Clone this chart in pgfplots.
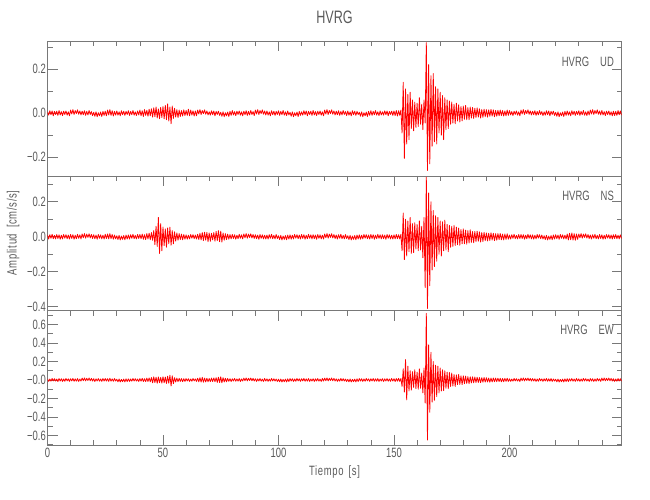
\documentclass[border=0pt]{standalone}
\usepackage{pgfplots}
\pgfplotsset{compat=1.18}
\usepackage{fontspec}
\setmainfont{Liberation Sans}[FakeStretch=0.7]
\definecolor{axgray}{RGB}{120,120,120}
\definecolor{txtgray}{RGB}{90,90,90}

\pgfplotsset{
  seis/.style={
    scale only axis, width=574pt, height=134.5pt,
    xmin=0, xmax=248.5, enlargelimits=false,
    axis line style={draw=axgray, line width=0.7pt},
    tick style={draw=axgray, line width=0.7pt},
    major tick length=10pt, minor tick length=5pt,
    tick align=inside,
    xtick={0,50,100,150,200},
    minor xtick={10,20,...,240},
    ytick pos=both, yticklabel pos=left,
    tick label style={font=\fontsize{13.5}{14}\selectfont, text=txtgray, inner sep=1.5pt},
  },
  trace/.style={color=red, line width=0.8pt, line join=round},
}
\tikzset{comp/.style={anchor=east, inner sep=0pt, text=txtgray, font=\fontsize{13.5}{14}\selectfont}}

\begin{document}
\begin{tikzpicture}
\path[use as bounding box] (0,0) rectangle (650pt,500pt);

% UD
\begin{axis}[seis, at={(47.5pt,324pt)}, anchor=south west,
  ymin=-0.285, ymax=0.325,
  xtick pos=right, xticklabels={},
  ytick={-0.2,0,0.2}, yticklabels={−0.2,0.0,0.2},
  minor ytick={-0.1,0.1,0.3},
  title={HVRG},
  title style={font=\fontsize{18}{18}\selectfont, text=txtgray, inner sep=0pt, at={(0.5,1)}, anchor=south, yshift=11.5pt},
]
\addplot[trace] table[row sep=\\, x expr=\coordindex*0.5, y index=0] {
y\\
0.006\\ -0.009\\ 0.011\\ -0.007\\ 0.010\\ -0.012\\ 0.008\\ -0.006\\ 0.009\\ -0.010\\
0.012\\ -0.008\\ 0.007\\ -0.011\\ 0.009\\ -0.006\\ 0.010\\ -0.009\\ 0.006\\ -0.012\\
0.014\\ -0.004\\ 0.016\\ -0.006\\ 0.012\\ -0.002\\ 0.015\\ -0.005\\ 0.010\\ -0.008\\
0.009\\ -0.007\\ 0.011\\ -0.010\\ 0.008\\ -0.008\\ 0.012\\ -0.006\\ 0.007\\ -0.011\\
0.004\\ -0.014\\ 0.006\\ -0.016\\ 0.002\\ -0.012\\ 0.005\\ -0.015\\ 0.008\\ -0.010\\
0.009\\ -0.012\\ 0.014\\ -0.008\\ 0.016\\ -0.010\\ 0.011\\ -0.013\\ 0.008\\ -0.009\\
0.010\\ -0.009\\ 0.006\\ -0.012\\ 0.011\\ -0.007\\ 0.009\\ -0.010\\ 0.008\\ -0.006\\
0.011\\ -0.010\\ 0.008\\ -0.007\\ 0.012\\ -0.009\\ 0.006\\ -0.011\\ 0.010\\ -0.008\\
0.014\\ -0.012\\ 0.011\\ -0.015\\ 0.016\\ -0.010\\ 0.013\\ -0.014\\ 0.018\\ -0.012\\
0.020\\ -0.018\\ 0.024\\ -0.016\\ 0.028\\ -0.022\\ 0.019\\ -0.025\\ 0.026\\ -0.020\\
0.030\\ -0.026\\ 0.035\\ -0.030\\ 0.042\\ -0.036\\ 0.028\\ -0.048\\ 0.032\\ -0.024\\
0.022\\ -0.018\\ 0.016\\ -0.020\\ 0.014\\ -0.015\\ 0.012\\ -0.013\\ 0.015\\ -0.011\\
0.012\\ -0.010\\ 0.018\\ -0.012\\ 0.014\\ -0.009\\ 0.011\\ -0.013\\ 0.010\\ -0.012\\
0.014\\ -0.004\\ 0.016\\ -0.006\\ 0.012\\ -0.002\\ 0.015\\ -0.005\\ 0.010\\ -0.008\\
0.006\\ -0.009\\ 0.011\\ -0.007\\ 0.010\\ -0.012\\ 0.008\\ -0.006\\ 0.009\\ -0.010\\
0.004\\ -0.014\\ 0.006\\ -0.016\\ 0.002\\ -0.012\\ 0.005\\ -0.015\\ 0.008\\ -0.010\\
0.012\\ -0.008\\ 0.007\\ -0.011\\ 0.009\\ -0.006\\ 0.010\\ -0.009\\ 0.006\\ -0.012\\
0.009\\ -0.007\\ 0.011\\ -0.010\\ 0.008\\ -0.008\\ 0.012\\ -0.006\\ 0.007\\ -0.011\\
0.014\\ -0.004\\ 0.016\\ -0.006\\ 0.012\\ -0.002\\ 0.015\\ -0.005\\ 0.010\\ -0.008\\
0.010\\ -0.009\\ 0.006\\ -0.012\\ 0.011\\ -0.007\\ 0.009\\ -0.010\\ 0.008\\ -0.006\\
0.011\\ -0.010\\ 0.008\\ -0.007\\ 0.012\\ -0.009\\ 0.006\\ -0.011\\ 0.010\\ -0.008\\
0.004\\ -0.014\\ 0.006\\ -0.016\\ 0.002\\ -0.012\\ 0.005\\ -0.015\\ 0.008\\ -0.010\\
0.006\\ -0.009\\ 0.011\\ -0.007\\ 0.010\\ -0.012\\ 0.008\\ -0.006\\ 0.009\\ -0.010\\
0.012\\ -0.008\\ 0.007\\ -0.011\\ 0.009\\ -0.006\\ 0.010\\ -0.009\\ 0.006\\ -0.012\\
0.014\\ -0.004\\ 0.016\\ -0.006\\ 0.012\\ -0.002\\ 0.015\\ -0.005\\ 0.010\\ -0.008\\
0.009\\ -0.007\\ 0.011\\ -0.010\\ 0.008\\ -0.008\\ 0.012\\ -0.006\\ 0.007\\ -0.011\\
0.010\\ -0.009\\ 0.006\\ -0.012\\ 0.011\\ -0.007\\ 0.009\\ -0.010\\ 0.008\\ -0.006\\
0.004\\ -0.014\\ 0.006\\ -0.016\\ 0.002\\ -0.012\\ 0.005\\ -0.015\\ 0.008\\ -0.010\\
0.011\\ -0.010\\ 0.008\\ -0.007\\ 0.012\\ -0.009\\ 0.006\\ -0.011\\ 0.010\\ -0.008\\
0.006\\ -0.009\\ 0.011\\ -0.007\\ 0.010\\ -0.012\\ 0.008\\ -0.006\\ 0.009\\ -0.010\\
0.010\\ -0.011\\ 0.012\\ -0.013\\ 0.011\\ -0.010\\ 0.014\\ -0.090\\ 0.140\\ -0.205\\
0.110\\ -0.140\\ 0.085\\ -0.120\\ 0.095\\ -0.070\\ 0.060\\ -0.080\\ 0.050\\ -0.065\\
0.045\\ -0.060\\ 0.070\\ -0.050\\ 0.040\\ -0.075\\ 0.060\\ -0.045\\ 0.320\\ -0.260\\
0.220\\ -0.230\\ 0.170\\ -0.150\\ 0.180\\ -0.130\\ 0.120\\ -0.140\\ 0.110\\ -0.090\\
0.095\\ -0.100\\ 0.080\\ -0.120\\ 0.070\\ -0.075\\ 0.060\\ -0.070\\ 0.055\\ -0.050\\
0.050\\ -0.045\\ 0.040\\ -0.048\\ 0.045\\ -0.035\\ 0.038\\ -0.040\\ 0.030\\ -0.035\\
0.032\\ -0.028\\ 0.035\\ -0.030\\ 0.025\\ -0.030\\ 0.028\\ -0.022\\ 0.026\\ -0.024\\
0.022\\ -0.020\\ 0.024\\ -0.018\\ 0.020\\ -0.022\\ 0.016\\ -0.019\\ 0.018\\ -0.016\\
0.016\\ -0.018\\ 0.015\\ -0.014\\ 0.017\\ -0.013\\ 0.015\\ -0.016\\ 0.012\\ -0.014\\
0.013\\ -0.012\\ 0.014\\ -0.011\\ 0.012\\ -0.013\\ 0.010\\ -0.012\\ 0.014\\ -0.010\\
0.012\\ -0.008\\ 0.007\\ -0.011\\ 0.009\\ -0.006\\ 0.010\\ -0.009\\ 0.006\\ -0.012\\
0.014\\ -0.004\\ 0.016\\ -0.006\\ 0.012\\ -0.002\\ 0.015\\ -0.005\\ 0.010\\ -0.008\\
0.009\\ -0.007\\ 0.011\\ -0.010\\ 0.008\\ -0.008\\ 0.012\\ -0.006\\ 0.007\\ -0.011\\
0.006\\ -0.009\\ 0.011\\ -0.007\\ 0.010\\ -0.012\\ 0.008\\ -0.006\\ 0.009\\ -0.010\\
0.004\\ -0.014\\ 0.006\\ -0.016\\ 0.002\\ -0.012\\ 0.005\\ -0.015\\ 0.008\\ -0.010\\
0.010\\ -0.009\\ 0.006\\ -0.012\\ 0.011\\ -0.007\\ 0.009\\ -0.010\\ 0.008\\ -0.006\\
0.011\\ -0.010\\ 0.008\\ -0.007\\ 0.012\\ -0.009\\ 0.006\\ -0.011\\ 0.010\\ -0.008\\
0.014\\ -0.004\\ 0.016\\ -0.006\\ 0.012\\ -0.002\\ 0.015\\ -0.005\\ 0.010\\ -0.008\\
0.012\\ -0.008\\ 0.007\\ -0.011\\ 0.009\\ -0.006\\ 0.010\\ -0.009\\ 0.006\\ -0.012\\
0.009\\ -0.011\\ 0.008\\ -0.010\\ 0.012\\ -0.007\\ 0.010\\ -0.009\\
};
\node[comp] at (rel axis cs:0.987,0.848) {HVRG\hspace{11pt}UD};
\end{axis}

% NS
\begin{axis}[seis, at={(47.5pt,189.5pt)}, anchor=south west,
  ymin=-0.421, ymax=0.347,
  xtick pos=right, xticklabels={},
  ytick={-0.4,-0.2,0,0.2}, yticklabels={−0.4,−0.2,0.0,0.2},
  minor ytick={-0.3,-0.1,0.1,0.3},
  ylabel={Amplitud\hspace{6pt}[cm/s/s]},
  ylabel style={font=\fontsize{13.5}{14}\selectfont\addfontfeature{LetterSpace=5}, text=txtgray, at={(rel axis cs:-0.060,0.577)}, anchor=center, inner sep=0pt},
]
\addplot[trace] table[row sep=\\, x expr=\coordindex*0.5, y index=0] {
y\\
0.010\\ -0.013\\ 0.012\\ -0.009\\ 0.014\\ -0.011\\ 0.008\\ -0.012\\ 0.013\\ -0.010\\
0.011\\ -0.014\\ 0.009\\ -0.012\\ 0.013\\ -0.008\\ 0.012\\ -0.011\\ 0.010\\ -0.013\\
0.013\\ -0.010\\ 0.012\\ -0.014\\ 0.009\\ -0.011\\ 0.014\\ -0.009\\ 0.011\\ -0.012\\
0.016\\ -0.006\\ 0.018\\ -0.008\\ 0.015\\ -0.004\\ 0.017\\ -0.007\\ 0.013\\ -0.010\\
0.012\\ -0.011\\ 0.010\\ -0.014\\ 0.013\\ -0.009\\ 0.011\\ -0.012\\ 0.009\\ -0.013\\
0.014\\ -0.010\\ 0.016\\ -0.012\\ 0.018\\ -0.011\\ 0.013\\ -0.014\\ 0.010\\ -0.012\\
0.006\\ -0.016\\ 0.008\\ -0.018\\ 0.004\\ -0.015\\ 0.007\\ -0.017\\ 0.010\\ -0.013\\
0.010\\ -0.013\\ 0.012\\ -0.009\\ 0.014\\ -0.011\\ 0.008\\ -0.012\\ 0.013\\ -0.010\\
0.013\\ -0.011\\ 0.015\\ -0.014\\ 0.012\\ -0.016\\ 0.018\\ -0.013\\ 0.020\\ -0.017\\
0.024\\ -0.020\\ 0.035\\ -0.045\\ 0.060\\ -0.055\\ 0.110\\ -0.095\\ 0.075\\ -0.080\\
0.055\\ -0.050\\ 0.045\\ -0.060\\ 0.050\\ -0.040\\ 0.055\\ -0.048\\ 0.035\\ -0.040\\
0.028\\ -0.025\\ 0.022\\ -0.020\\ 0.018\\ -0.016\\ 0.015\\ -0.017\\ 0.013\\ -0.014\\
0.011\\ -0.014\\ 0.009\\ -0.012\\ 0.013\\ -0.008\\ 0.012\\ -0.011\\ 0.010\\ -0.013\\
0.014\\ -0.016\\ 0.020\\ -0.018\\ 0.024\\ -0.022\\ 0.026\\ -0.020\\ 0.025\\ -0.028\\
0.022\\ -0.026\\ 0.020\\ -0.018\\ 0.024\\ -0.025\\ 0.030\\ -0.022\\ 0.035\\ -0.028\\
0.032\\ -0.030\\ 0.022\\ -0.020\\ 0.018\\ -0.016\\ 0.015\\ -0.014\\ 0.013\\ -0.012\\
0.013\\ -0.010\\ 0.012\\ -0.014\\ 0.009\\ -0.011\\ 0.014\\ -0.009\\ 0.011\\ -0.012\\
0.016\\ -0.006\\ 0.018\\ -0.008\\ 0.015\\ -0.004\\ 0.017\\ -0.007\\ 0.013\\ -0.010\\
0.012\\ -0.011\\ 0.010\\ -0.014\\ 0.013\\ -0.009\\ 0.011\\ -0.012\\ 0.009\\ -0.013\\
0.010\\ -0.013\\ 0.012\\ -0.009\\ 0.014\\ -0.011\\ 0.008\\ -0.012\\ 0.013\\ -0.010\\
0.006\\ -0.016\\ 0.008\\ -0.018\\ 0.004\\ -0.015\\ 0.007\\ -0.017\\ 0.010\\ -0.013\\
0.011\\ -0.014\\ 0.009\\ -0.012\\ 0.013\\ -0.008\\ 0.012\\ -0.011\\ 0.010\\ -0.013\\
0.013\\ -0.010\\ 0.012\\ -0.014\\ 0.009\\ -0.011\\ 0.014\\ -0.009\\ 0.011\\ -0.012\\
0.012\\ -0.011\\ 0.010\\ -0.014\\ 0.013\\ -0.009\\ 0.011\\ -0.012\\ 0.009\\ -0.013\\
0.016\\ -0.006\\ 0.018\\ -0.008\\ 0.015\\ -0.004\\ 0.017\\ -0.007\\ 0.013\\ -0.010\\
0.010\\ -0.013\\ 0.012\\ -0.009\\ 0.014\\ -0.011\\ 0.008\\ -0.012\\ 0.013\\ -0.010\\
0.006\\ -0.016\\ 0.008\\ -0.018\\ 0.004\\ -0.015\\ 0.007\\ -0.017\\ 0.010\\ -0.013\\
0.011\\ -0.014\\ 0.009\\ -0.012\\ 0.013\\ -0.008\\ 0.012\\ -0.011\\ 0.010\\ -0.013\\
0.013\\ -0.010\\ 0.012\\ -0.014\\ 0.009\\ -0.011\\ 0.014\\ -0.009\\ 0.011\\ -0.012\\
0.012\\ -0.011\\ 0.010\\ -0.014\\ 0.013\\ -0.009\\ 0.011\\ -0.012\\ 0.009\\ -0.013\\
0.011\\ -0.012\\ 0.013\\ -0.011\\ 0.012\\ -0.013\\ 0.014\\ -0.080\\ 0.135\\ -0.130\\
0.100\\ -0.110\\ 0.090\\ -0.085\\ 0.110\\ -0.095\\ 0.075\\ -0.090\\ 0.080\\ -0.070\\
0.070\\ -0.080\\ 0.090\\ -0.075\\ 0.060\\ -0.120\\ 0.110\\ -0.290\\ 0.340\\ -0.410\\
0.250\\ -0.280\\ 0.200\\ -0.190\\ 0.150\\ -0.170\\ 0.120\\ -0.140\\ 0.110\\ -0.100\\
0.090\\ -0.110\\ 0.085\\ -0.080\\ 0.095\\ -0.075\\ 0.070\\ -0.085\\ 0.065\\ -0.060\\
0.060\\ -0.055\\ 0.065\\ -0.050\\ 0.055\\ -0.045\\ 0.050\\ -0.048\\ 0.042\\ -0.040\\
0.045\\ -0.040\\ 0.038\\ -0.042\\ 0.035\\ -0.036\\ 0.040\\ -0.032\\ 0.030\\ -0.034\\
0.030\\ -0.028\\ 0.032\\ -0.026\\ 0.028\\ -0.030\\ 0.024\\ -0.027\\ 0.025\\ -0.022\\
0.022\\ -0.024\\ 0.020\\ -0.021\\ 0.023\\ -0.019\\ 0.020\\ -0.022\\ 0.018\\ -0.020\\
0.018\\ -0.016\\ 0.019\\ -0.017\\ 0.015\\ -0.018\\ 0.016\\ -0.015\\ 0.017\\ -0.014\\
0.010\\ -0.013\\ 0.012\\ -0.009\\ 0.014\\ -0.011\\ 0.008\\ -0.012\\ 0.013\\ -0.010\\
0.013\\ -0.010\\ 0.012\\ -0.014\\ 0.009\\ -0.011\\ 0.014\\ -0.009\\ 0.011\\ -0.012\\
0.011\\ -0.014\\ 0.009\\ -0.012\\ 0.013\\ -0.008\\ 0.012\\ -0.011\\ 0.010\\ -0.013\\
0.006\\ -0.016\\ 0.008\\ -0.018\\ 0.004\\ -0.015\\ 0.007\\ -0.017\\ 0.010\\ -0.013\\
0.012\\ -0.011\\ 0.010\\ -0.014\\ 0.013\\ -0.009\\ 0.011\\ -0.012\\ 0.009\\ -0.013\\
0.016\\ -0.018\\ 0.020\\ -0.017\\ 0.022\\ -0.019\\ 0.018\\ -0.020\\ 0.016\\ -0.015\\
0.016\\ -0.006\\ 0.018\\ -0.008\\ 0.015\\ -0.004\\ 0.017\\ -0.007\\ 0.013\\ -0.010\\
0.010\\ -0.013\\ 0.012\\ -0.009\\ 0.014\\ -0.011\\ 0.008\\ -0.012\\ 0.013\\ -0.010\\
0.011\\ -0.014\\ 0.009\\ -0.012\\ 0.013\\ -0.008\\ 0.012\\ -0.011\\ 0.010\\ -0.013\\
0.012\\ -0.010\\ 0.013\\ -0.011\\ 0.009\\ -0.012\\ 0.011\\ -0.010\\
};
\node[comp] at (rel axis cs:0.987,0.855) {HVRG\hspace{11pt}NS};
\end{axis}

% EW
\begin{axis}[seis, at={(47.5pt,55pt)}, anchor=south west,
  ymin=-0.703, ymax=0.751,
  xtick pos=both, xticklabel pos=left,
  xticklabels={0,50,100,150,200},
  xticklabel style={inner sep=3pt},
  ytick={-0.6,-0.4,-0.2,0,0.2,0.4,0.6},
  yticklabels={−0.6,−0.4,−0.2,−0.0,0.2,0.4,0.6},
  minor ytick={-0.7,-0.5,-0.3,-0.1,0.1,0.3,0.5,0.7},
  xlabel={Tiempo\hspace{5pt}[s]},
  xlabel style={font=\fontsize{13.5}{14}\selectfont\addfontfeature{LetterSpace=5}, text=txtgray, at={(rel axis cs:0.5,-0.199)}, anchor=center, inner sep=0pt},
]
\addplot[trace] table[row sep=\\, x expr=\coordindex*0.5, y index=0] {
y\\
0.012\\ -0.015\\ 0.010\\ -0.013\\ 0.016\\ -0.011\\ 0.014\\ -0.012\\ 0.010\\ -0.016\\
0.015\\ -0.012\\ 0.013\\ -0.016\\ 0.011\\ -0.014\\ 0.016\\ -0.010\\ 0.012\\ -0.015\\
0.013\\ -0.011\\ 0.016\\ -0.014\\ 0.012\\ -0.013\\ 0.015\\ -0.016\\ 0.011\\ -0.012\\
0.020\\ -0.008\\ 0.022\\ -0.010\\ 0.018\\ -0.006\\ 0.021\\ -0.009\\ 0.017\\ -0.012\\
0.014\\ -0.016\\ 0.012\\ -0.011\\ 0.015\\ -0.013\\ 0.010\\ -0.015\\ 0.016\\ -0.012\\
0.016\\ -0.012\\ 0.014\\ -0.015\\ 0.018\\ -0.013\\ 0.012\\ -0.014\\ 0.015\\ -0.011\\
0.008\\ -0.020\\ 0.010\\ -0.022\\ 0.006\\ -0.018\\ 0.009\\ -0.021\\ 0.012\\ -0.017\\
0.012\\ -0.015\\ 0.010\\ -0.013\\ 0.016\\ -0.011\\ 0.014\\ -0.012\\ 0.010\\ -0.016\\
0.015\\ -0.013\\ 0.017\\ -0.016\\ 0.014\\ -0.018\\ 0.020\\ -0.017\\ 0.022\\ -0.020\\
0.026\\ -0.030\\ 0.034\\ -0.028\\ 0.030\\ -0.036\\ 0.032\\ -0.030\\ 0.028\\ -0.034\\
0.035\\ -0.030\\ 0.032\\ -0.038\\ 0.040\\ -0.035\\ 0.052\\ -0.065\\ 0.045\\ -0.040\\
0.025\\ -0.022\\ 0.020\\ -0.018\\ 0.017\\ -0.016\\ 0.015\\ -0.018\\ 0.014\\ -0.016\\
0.015\\ -0.012\\ 0.013\\ -0.016\\ 0.011\\ -0.014\\ 0.016\\ -0.010\\ 0.012\\ -0.015\\
0.018\\ -0.020\\ 0.025\\ -0.022\\ 0.028\\ -0.024\\ 0.020\\ -0.022\\ 0.018\\ -0.020\\
0.016\\ -0.018\\ 0.020\\ -0.017\\ 0.022\\ -0.019\\ 0.024\\ -0.026\\ 0.030\\ -0.028\\
0.034\\ -0.030\\ 0.025\\ -0.022\\ 0.018\\ -0.020\\ 0.016\\ -0.015\\ 0.014\\ -0.016\\
0.013\\ -0.011\\ 0.016\\ -0.014\\ 0.012\\ -0.013\\ 0.015\\ -0.016\\ 0.011\\ -0.012\\
0.020\\ -0.008\\ 0.022\\ -0.010\\ 0.018\\ -0.006\\ 0.021\\ -0.009\\ 0.017\\ -0.012\\
0.014\\ -0.016\\ 0.012\\ -0.011\\ 0.015\\ -0.013\\ 0.010\\ -0.015\\ 0.016\\ -0.012\\
0.012\\ -0.015\\ 0.010\\ -0.013\\ 0.016\\ -0.011\\ 0.014\\ -0.012\\ 0.010\\ -0.016\\
0.008\\ -0.020\\ 0.010\\ -0.022\\ 0.006\\ -0.018\\ 0.009\\ -0.021\\ 0.012\\ -0.017\\
0.015\\ -0.012\\ 0.013\\ -0.016\\ 0.011\\ -0.014\\ 0.016\\ -0.010\\ 0.012\\ -0.015\\
0.013\\ -0.011\\ 0.016\\ -0.014\\ 0.012\\ -0.013\\ 0.015\\ -0.016\\ 0.011\\ -0.012\\
0.014\\ -0.016\\ 0.012\\ -0.011\\ 0.015\\ -0.013\\ 0.010\\ -0.015\\ 0.016\\ -0.012\\
0.020\\ -0.008\\ 0.022\\ -0.010\\ 0.018\\ -0.006\\ 0.021\\ -0.009\\ 0.017\\ -0.012\\
0.012\\ -0.015\\ 0.010\\ -0.013\\ 0.016\\ -0.011\\ 0.014\\ -0.012\\ 0.010\\ -0.016\\
0.008\\ -0.020\\ 0.010\\ -0.022\\ 0.006\\ -0.018\\ 0.009\\ -0.021\\ 0.012\\ -0.017\\
0.015\\ -0.012\\ 0.013\\ -0.016\\ 0.011\\ -0.014\\ 0.016\\ -0.010\\ 0.012\\ -0.015\\
0.013\\ -0.011\\ 0.016\\ -0.014\\ 0.012\\ -0.013\\ 0.015\\ -0.016\\ 0.011\\ -0.012\\
0.014\\ -0.016\\ 0.012\\ -0.011\\ 0.015\\ -0.013\\ 0.010\\ -0.015\\ 0.016\\ -0.012\\
0.014\\ -0.016\\ 0.015\\ -0.013\\ 0.017\\ -0.015\\ 0.016\\ -0.070\\ 0.120\\ -0.130\\
0.220\\ -0.215\\ 0.150\\ -0.120\\ 0.100\\ -0.110\\ 0.090\\ -0.080\\ 0.110\\ -0.095\\
0.085\\ -0.100\\ 0.120\\ -0.090\\ 0.075\\ -0.140\\ 0.130\\ -0.250\\ 0.720\\ -0.650\\
0.380\\ -0.350\\ 0.300\\ -0.240\\ 0.200\\ -0.220\\ 0.160\\ -0.180\\ 0.150\\ -0.140\\
0.130\\ -0.120\\ 0.110\\ -0.115\\ 0.100\\ -0.090\\ 0.085\\ -0.095\\ 0.080\\ -0.070\\
0.075\\ -0.065\\ 0.060\\ -0.070\\ 0.055\\ -0.050\\ 0.060\\ -0.048\\ 0.045\\ -0.050\\
0.045\\ -0.040\\ 0.042\\ -0.038\\ 0.036\\ -0.040\\ 0.035\\ -0.032\\ 0.034\\ -0.030\\
0.032\\ -0.028\\ 0.030\\ -0.027\\ 0.026\\ -0.029\\ 0.025\\ -0.024\\ 0.027\\ -0.023\\
0.024\\ -0.022\\ 0.021\\ -0.024\\ 0.020\\ -0.021\\ 0.022\\ -0.019\\ 0.020\\ -0.018\\
0.019\\ -0.017\\ 0.018\\ -0.020\\ 0.016\\ -0.018\\ 0.017\\ -0.015\\ 0.018\\ -0.016\\
0.012\\ -0.015\\ 0.010\\ -0.013\\ 0.016\\ -0.011\\ 0.014\\ -0.012\\ 0.010\\ -0.016\\
0.020\\ -0.008\\ 0.022\\ -0.010\\ 0.018\\ -0.006\\ 0.021\\ -0.009\\ 0.017\\ -0.012\\
0.015\\ -0.012\\ 0.013\\ -0.016\\ 0.011\\ -0.014\\ 0.016\\ -0.010\\ 0.012\\ -0.015\\
0.013\\ -0.011\\ 0.016\\ -0.014\\ 0.012\\ -0.013\\ 0.015\\ -0.016\\ 0.011\\ -0.012\\
0.008\\ -0.020\\ 0.010\\ -0.022\\ 0.006\\ -0.018\\ 0.009\\ -0.021\\ 0.012\\ -0.017\\
0.014\\ -0.016\\ 0.012\\ -0.011\\ 0.015\\ -0.013\\ 0.010\\ -0.015\\ 0.016\\ -0.012\\
0.012\\ -0.015\\ 0.010\\ -0.013\\ 0.016\\ -0.011\\ 0.014\\ -0.012\\ 0.010\\ -0.016\\
0.015\\ -0.012\\ 0.013\\ -0.016\\ 0.011\\ -0.014\\ 0.016\\ -0.010\\ 0.012\\ -0.015\\
0.020\\ -0.008\\ 0.022\\ -0.010\\ 0.018\\ -0.006\\ 0.021\\ -0.009\\ 0.017\\ -0.012\\
0.013\\ -0.015\\ 0.011\\ -0.014\\ 0.016\\ -0.012\\ 0.014\\ -0.013\\
};
\node[comp] at (rel axis cs:0.987,0.855) {HVRG\hspace{11pt}EW};
\end{axis}
\end{tikzpicture}
\end{document}
